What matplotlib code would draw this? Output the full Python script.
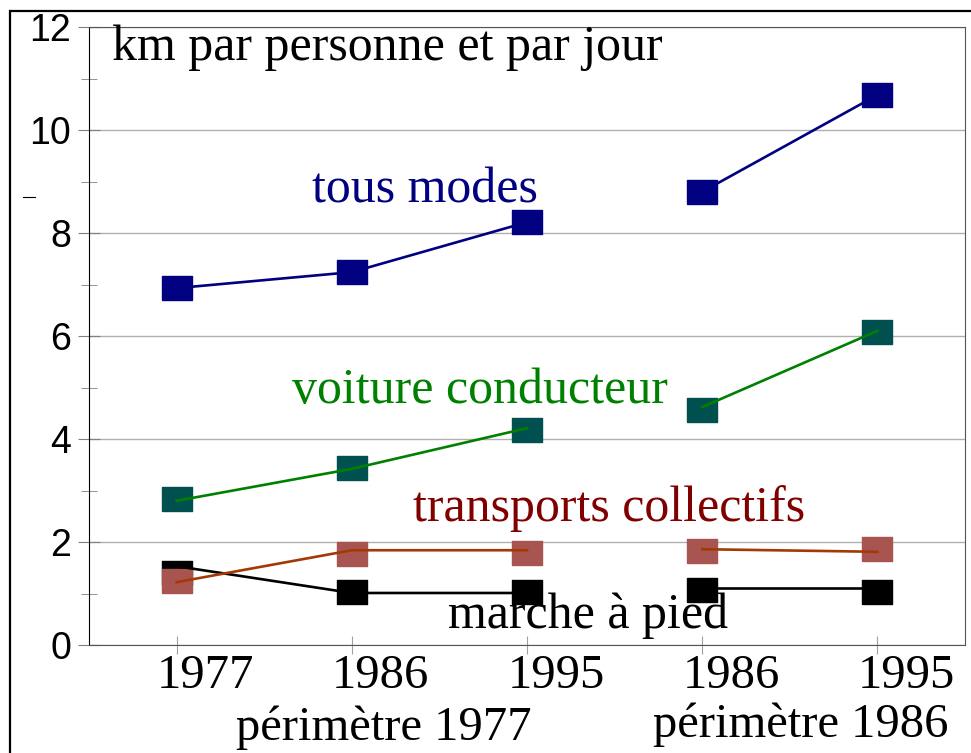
import matplotlib.pyplot as plt
from matplotlib.transforms import ScaledTranslation, blended_transform_factory
from matplotlib.patches import Rectangle
from matplotlib.lines import Line2D

########### DONNEES ##########
annees = ['1977', '1986', '1995', '1986', '1995']
perimetres = ['périmètre 1977', 'périmètre 1986']
groupes = [[0, 1, 2], [3, 4]]   # deux séries séparées (périmètre 1977 / 1986)

tous_modes = [6.93, 7.24, 8.21, 8.80, 10.68]
tous_modes_ligne = [6.93, 7.24, 8.21, 8.80, 10.68]
voiture = [2.84, 3.44, 4.18, 4.56, 6.08]
voiture_ligne = [2.80, 3.42, 4.21, 4.62, 6.10]
transports = [1.24, 1.77, 1.79, 1.83, 1.86]
transports_ligne = [1.22, 1.84, 1.84, 1.86, 1.81]
marche = [1.40, 1.03, 1.03, 1.07, 1.03]
marche_ligne = [1.53, 1.01, 1.01, 1.10, 1.10]
##############################

plt.rcParams['font.family'] = 'Liberation Serif'
x = list(range(len(annees)))

fig = plt.figure(figsize=(9.71, 7.53), dpi=100)
ax = fig.add_axes([89/971, 1 - 645/753, (965-89)/971, (645-27)/753])

# marqueur rectangulaire (un peu plus large que haut)
rect = [(-1, -0.79), (1, -0.79), (1, 0.79), (-1, 0.79), (-1, -0.79)]
ms = 21

series = [
    (marche, marche_ligne, 'black', 'black', 3),
    (transports, transports_ligne, '#a85552', '#a33a05', 4),
    (voiture, voiture_ligne, '#00504f', '#008000', 4),
    (tous_modes, tous_modes_ligne, '#000080', '#000080', 6),
]
for vals, ligne, cmark, cligne, z in series:
    ax.plot(x, vals, ls='none', marker=rect, ms=ms, color=cmark, mec=cmark, zorder=z)
    for g in groupes:
        ax.plot([x[i] for i in g], [ligne[i] for i in g], color=cligne, lw=1.9, zorder=5)

ax.set_xlim(-0.5, 4.5)
ax.set_ylim(0, 12)
ax.set_yticks(range(0, 13, 2))
ax.set_yticks(range(1, 12, 2), minor=True)
ax.grid(axis='y', color='#b0b0b0', lw=1)
ax.set_axisbelow(True)
ax.tick_params(axis='y', which='major', direction='inout', length=16, color='#808080',
               labelsize=27, pad=5, labelfontfamily='Liberation Sans')
ax.tick_params(axis='y', which='minor', direction='inout', length=11.5, color='#808080')

ax.set_xticks(x)
ax.set_xticklabels(annees)
ax.tick_params(axis='x', direction='inout', length=13, color='#a0a0a0', labelsize=35, pad=0)
for lbl in ax.get_xticklabels():
    lbl.set_transform(lbl.get_transform() + ScaledTranslation(0.29, 0, fig.dpi_scale_trans))

for s in ['top', 'right', 'bottom']:
    ax.spines[s].set_color('#555555')
ax.spines['left'].set_color('black')

trans = blended_transform_factory(ax.transData, ax.transAxes)
ax.text(1.18, -0.154, perimetres[0], transform=trans, ha='center', va='baseline', fontsize=35)
ax.text(3.56, -0.149, perimetres[1], transform=trans, ha='center', va='baseline', fontsize=35)

# étiquettes des séries
ax.text(-0.37, 11.35, 'km par personne et par jour', fontsize=36, va='baseline')
ax.text(0.77, 8.6, 'tous modes', fontsize=36, va='baseline', color='#000080')
ax.text(0.66, 4.7, 'voiture conducteur', fontsize=36, va='baseline', color='#008000')
ax.text(1.35, 2.4, 'transports collectifs', fontsize=36, va='baseline', color='#800000')
ax.text(1.55, 0.33, 'marche à pied', fontsize=36, va='baseline', color='black', zorder=7)

# cadre autour de la figure
fig.patches.append(Rectangle((10/971, -0.2), 1.5, 1.2 - 11/753, transform=fig.transFigure,
                             fill=False, ec='black', lw=1.6))
fig.lines.append(Line2D([23/971, 35/971], [1 - 197/753, 1 - 197/753], transform=fig.transFigure,
                        color='black', lw=0.8))

fig.savefig('out.png', dpi=100)
